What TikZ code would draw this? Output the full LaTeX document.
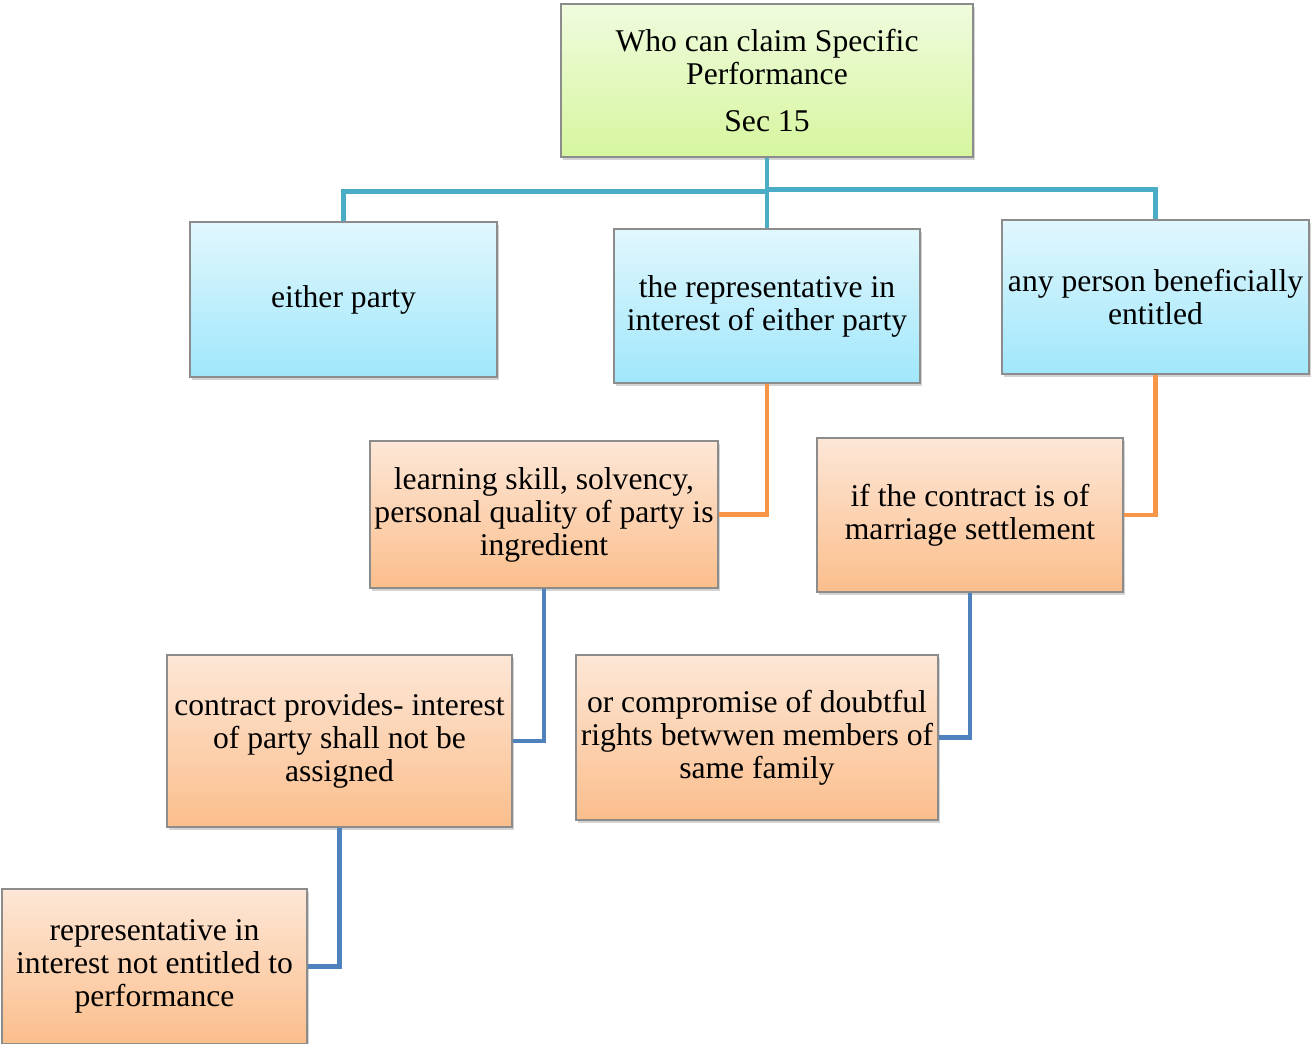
\documentclass[tikz,border=0pt]{standalone}
\usepackage{fontspec}
\setmainfont{Liberation Serif}
\usetikzlibrary{shadows}
\definecolor{greentop}{RGB}{240, 251, 222}
\definecolor{greenbot}{RGB}{214, 246, 158}
\definecolor{bluetop}{RGB}{225, 247, 253}
\definecolor{bluebot}{RGB}{160, 231, 251}
\definecolor{orangetop}{RGB}{253, 231, 215}
\definecolor{orangebot}{RGB}{251, 190, 140}
\definecolor{tealline}{RGB}{75, 172, 198}
\definecolor{orangeline}{RGB}{247, 150, 70}
\definecolor{blueline}{RGB}{79, 129, 189}

\begin{document}
\begin{tikzpicture}[
    box/.style={draw=gray!90,line width=0.8pt,align=center,inner sep=1pt,
        font=\fontsize{18}{18.8}\selectfont,
        drop shadow={opacity=0.35,shadow xshift=0.04cm,shadow yshift=-0.06cm}},
    greenbox/.style={box,top color=greentop,bottom color=greenbot},
    bluebox/.style={box,top color=bluetop,bottom color=bluebot},
    orangebox/.style={box,top color=orangetop,bottom color=orangebot},
    link/.style={line width=2.8pt}
    ]
        \useasboundingbox (0,0) rectangle (26.22,-20.88);

        \coordinate (v1) at (15.34,-1.61);
        \coordinate (v2) at (6.87,-5.99);
        \coordinate (v3) at (15.34,-6.12);
        \coordinate (v4) at (23.11,-5.94);
		\coordinate (v5) at (10.88,-10.29);
		\coordinate (v6) at (19.40,-10.30);
		\coordinate (v7) at (6.79,-14.82);
		\coordinate (v8) at (15.14,-14.75);
		\coordinate (v9) at (3.09,-19.33);

        \node[greenbox,minimum width=8.24cm,minimum height=3.06cm] (Top) at (v1){Who can claim Specific\\Performance\\[0.26cm]Sec 15};
		\node[bluebox,minimum width=6.14cm,minimum height=3.10cm] (Either) at (v2){either party};
		\node[bluebox,minimum width=6.12cm,minimum height=3.08cm] (Rep) at (v3){the representative in\\interest of either party};
		\node[bluebox,minimum width=6.14cm,minimum height=3.08cm] (AnyPerson) at (v4){any person beneficially\\entitled};
		\node[orangebox,minimum width=6.96cm,minimum height=2.94cm] (Learning) at (v5){learning skill, solvency,\\personal quality of party is\\ingredient};
		\node[orangebox,minimum width=6.12cm,minimum height=3.08cm] (Marriage) at (v6){if the contract is of\\marriage settlement};
        \node[orangebox,minimum width=6.90cm,minimum height=3.44cm] (Contract) at (v7){contract provides- interest\\of party shall not be\\assigned};
        \node[orangebox,minimum width=7.24cm,minimum height=3.30cm] (Compromise) at (v8){or compromise of doubtful\\rights betwwen members of\\same family};
        \node[orangebox,minimum width=6.10cm,minimum height=3.10cm] (NotEntitled) at (v9){representative in\\interest not entitled to\\performance};

        \draw[link,tealline] (Top.south) -- ++(0,-0.67) -| (Either.north);
        \draw[link,tealline] (Top.south) -- ++(0,-0.63) -| (AnyPerson.north);
        \draw[link,tealline] (Top.south) -- (Rep.north);
        \draw[link,orangeline] (Rep.south) |- (Learning.east);
        \draw[link,orangeline] (AnyPerson.south) |- (Marriage.east);
        \draw[link,blueline] (Learning.south) |- (Contract.east);
        \draw[link,blueline] (Marriage.south) |- (Compromise.east);
        \draw[link,blueline] (Contract.south) |- (NotEntitled.east);
    \end{tikzpicture}
\end{document}
